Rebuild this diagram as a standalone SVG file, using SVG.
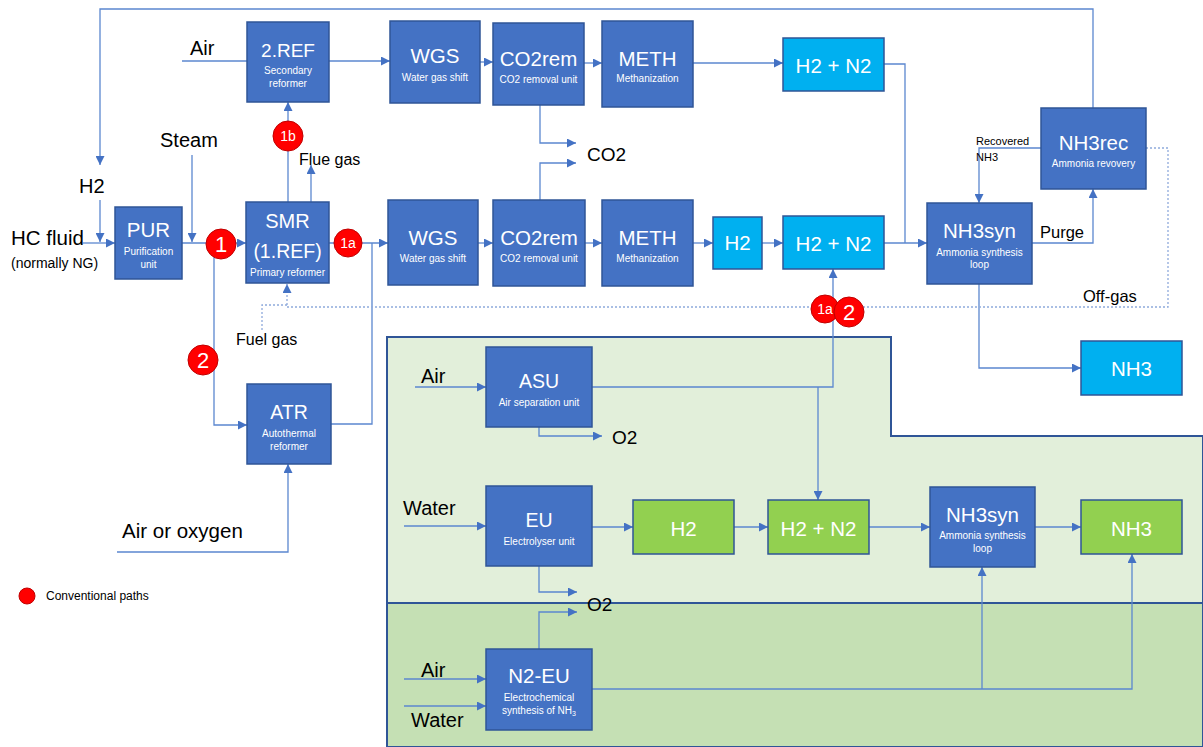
<svg xmlns="http://www.w3.org/2000/svg" width="1203" height="747" viewBox="0 0 1203 747">
<style>
.bx{fill:#4472C4;stroke:#2F5597;stroke-width:1.5}
.cy{fill:#00B0F0;stroke:#2F5597;stroke-width:1.5}
.gr{fill:#92D050;stroke:#2F5597;stroke-width:1.5}
.t{font-family:"Liberation Sans",Arial,sans-serif;fill:#fff;text-anchor:middle}
.tt{font-size:20.5px}
.st{font-size:10px}
.lb{font-family:"Liberation Sans",Arial,sans-serif;fill:#000}
.c{fill:none;stroke:#5B87CF;stroke-width:1.3}
.d{fill:none;stroke:#8FAADC;stroke-width:1.3;stroke-dasharray:2,2}
.rc{fill:#FF0000;stroke:#C00000;stroke-width:1}
.rt{font-family:"Liberation Sans",Arial,sans-serif;fill:#fff;text-anchor:middle}
</style>
<defs>
<marker id="a" markerUnits="userSpaceOnUse" markerWidth="9" markerHeight="9" refX="9" refY="4.5" orient="auto">
<path d="M0,0 L9,4.5 L0,9 z" fill="#4472C4"/>
</marker>
</defs>
<rect width="1203" height="747" fill="#fff"/>
<g id="regions">
<path d="M387,337 H891 V436 H1203 V747 H387 Z" fill="#E2EFDA" stroke="#2F5597" stroke-width="2"/>
<path d="M387,603 H1203 V747 H387 Z" fill="#C5E0B4" stroke="#2F5597" stroke-width="2"/>
</g>
<g id="connectors">
<path class="c" d="M1093,108 V9 H100 V165" marker-end="url(#a)"/>
<path class="c" d="M100,200 V242" marker-end="url(#a)"/>
<path class="c" d="M83,243 H115" marker-end="url(#a)"/>
<path class="c" d="M192,155 V242" marker-end="url(#a)"/>
<path class="c" d="M182,243 H246" marker-end="url(#a)"/>
<path class="c" d="M288,202 V102" marker-end="url(#a)"/>
<path class="c" d="M311,202 V165" marker-end="url(#a)"/>
<path class="c" d="M182,61 H247"/>
<path class="c" d="M329,61 H390" marker-end="url(#a)"/>
<path class="c" d="M480,62 H493" marker-end="url(#a)"/>
<path class="c" d="M584,63 H602" marker-end="url(#a)"/>
<path class="c" d="M693,63 H783" marker-end="url(#a)"/>
<path class="c" d="M540,105 V143 H576" marker-end="url(#a)"/>
<path class="c" d="M540,200 V163 H576" marker-end="url(#a)"/>
<path class="c" d="M329,243 H388" marker-end="url(#a)"/>
<path class="c" d="M331,424 H372 V243"/>
<path class="c" d="M214,244 V425 H247" marker-end="url(#a)"/>
<path class="c" d="M478,243 H493" marker-end="url(#a)"/>
<path class="c" d="M585,243 H602" marker-end="url(#a)"/>
<path class="c" d="M693,243 H713" marker-end="url(#a)"/>
<path class="c" d="M762,243 H783" marker-end="url(#a)"/>
<path class="c" d="M884,243 H927" marker-end="url(#a)"/>
<path class="c" d="M884,64 H905 V243"/>
<path class="c" d="M1032,243 H1093 V189" marker-end="url(#a)"/>
<path class="c" d="M1041,148 H979 V203" marker-end="url(#a)"/>
<path class="c" d="M979,284 V368 H1081" marker-end="url(#a)"/>
<path class="d" d="M1146,148 H1168 V307 H287 V284" marker-end="url(#a)"/>
<path class="d" d="M262,330 V305 H287"/>
<path class="c" d="M117,552 H288 V464" marker-end="url(#a)"/>
<path class="c" d="M592,387 H833 V269" marker-end="url(#a)"/>
<path class="c" d="M818,387 V500" marker-end="url(#a)"/>
<path class="c" d="M415,387 H486" marker-end="url(#a)"/>
<path class="c" d="M539,427 V436 H602" marker-end="url(#a)"/>
<path class="c" d="M404,526 H486" marker-end="url(#a)"/>
<path class="c" d="M592,527 H633" marker-end="url(#a)"/>
<path class="c" d="M734,527 H768" marker-end="url(#a)"/>
<path class="c" d="M869,527 H930" marker-end="url(#a)"/>
<path class="c" d="M1035,527 H1081" marker-end="url(#a)"/>
<path class="c" d="M539,566 V592 H577" marker-end="url(#a)"/>
<path class="c" d="M539,649 V612 H577" marker-end="url(#a)"/>
<path class="c" d="M404,679 H486" marker-end="url(#a)"/>
<path class="c" d="M404,706 H486" marker-end="url(#a)"/>
<path class="c" d="M592,689 H1132 V554" marker-end="url(#a)"/>
<path class="c" d="M982,689 V567" marker-end="url(#a)"/>
</g>
<g id="labels">
<text class="lb" x="11" y="245" font-size="20.5">HC fluid</text>
<text class="lb" x="11" y="268" font-size="14">(normally NG)</text>
<text class="lb" x="79" y="193" font-size="20">H2</text>
<text class="lb" x="160" y="147" font-size="20">Steam</text>
<text class="lb" x="190" y="55" font-size="20">Air</text>
<text class="lb" x="299" y="165" font-size="16">Flue gas</text>
<text class="lb" x="587" y="161" font-size="19">CO2</text>
<text class="lb" x="976" y="145" font-size="11">Recovered</text>
<text class="lb" x="976" y="161" font-size="11">NH3</text>
<text class="lb" x="1040" y="238" font-size="16.5">Purge</text>
<text class="lb" x="1083" y="302" font-size="16.5">Off-gas</text>
<text class="lb" x="236" y="345" font-size="16">Fuel gas</text>
<text class="lb" x="122" y="538" font-size="20.5">Air or oxygen</text>
<text class="lb" x="421" y="383" font-size="20">Air</text>
<text class="lb" x="612" y="444" font-size="19">O2</text>
<text class="lb" x="403" y="515" font-size="20">Water</text>
<text class="lb" x="587" y="611" font-size="19">O2</text>
<text class="lb" x="421" y="677" font-size="20">Air</text>
<text class="lb" x="411" y="727" font-size="20">Water</text>
<text class="lb" x="46" y="600" font-size="12">Conventional paths</text>
</g>
<g id="n-2ref"><rect class="bx" x="247" y="22" width="82" height="80"/><text class="t" x="288" y="57" font-size="19">2.REF</text><text class="t st" x="288" y="74">Secondary</text><text class="t st" x="288" y="87">reformer</text></g>
<g id="n-pur"><rect class="bx" x="115" y="207" width="67" height="72"/><text class="t tt" x="148.5" y="237">PUR</text><text class="t st" x="148.5" y="255">Purification</text><text class="t st" x="148.5" y="268">unit</text></g>
<g id="n-smr"><rect class="bx" x="246" y="202" width="83" height="81"/><text class="t" x="287.5" y="228" font-size="20">SMR</text><text class="t" x="287.5" y="258" font-size="19.5">(1.REF)</text><text class="t st" x="287.5" y="276" font-size="9.8">Primary reformer</text></g>
<g id="n-wgs1"><rect class="bx" x="390" y="21" width="90" height="82"/><text class="t tt" x="435" y="63">WGS</text><text class="t st" x="435" y="81">Water gas shift</text></g>
<g id="n-co2rem1"><rect class="bx" x="493" y="23" width="91" height="82"/><text class="t tt" x="538.5" y="66">CO2rem</text><text class="t st" x="538.5" y="83">CO2 removal unit</text></g>
<g id="n-meth1"><rect class="bx" x="602" y="21" width="91" height="86"/><text class="t tt" x="647.5" y="66">METH</text><text class="t st" x="647.5" y="82">Methanization</text></g>
<g id="n-h2n2-1"><rect class="cy" x="783" y="38" width="101" height="53"/><text class="t tt" x="833.5" y="73">H2 + N2</text></g>
<g id="n-wgs2"><rect class="bx" x="388" y="200" width="90" height="85"/><text class="t tt" x="433" y="245">WGS</text><text class="t st" x="433" y="262">Water gas shift</text></g>
<g id="n-co2rem2"><rect class="bx" x="493" y="200" width="92" height="86"/><text class="t tt" x="539" y="245">CO2rem</text><text class="t st" x="539" y="262">CO2 removal unit</text></g>
<g id="n-meth2"><rect class="bx" x="602" y="200" width="91" height="86"/><text class="t tt" x="647.5" y="245">METH</text><text class="t st" x="647.5" y="262">Methanization</text></g>
<g id="n-h2-1"><rect class="cy" x="713" y="217" width="49" height="52"/><text class="t tt" x="737.5" y="250">H2</text></g>
<g id="n-h2n2-2"><rect class="cy" x="783" y="216" width="101" height="53"/><text class="t tt" x="833.5" y="251">H2 + N2</text></g>
<g id="n-nh3syn1"><rect class="bx" x="927" y="203" width="105" height="81"/><text class="t tt" x="979.5" y="238">NH3syn</text><text class="t st" x="979.5" y="256">Ammonia synthesis</text><text class="t st" x="979.5" y="268">loop</text></g>
<g id="n-nh3rec"><rect class="bx" x="1041" y="108" width="105" height="81"/><text class="t tt" x="1093.5" y="150">NH3rec</text><text class="t st" x="1093.5" y="167">Ammonia revovery</text></g>
<g id="n-nh3-1"><rect class="cy" x="1081" y="341" width="101" height="54"/><text class="t tt" x="1131.5" y="376">NH3</text></g>
<g id="n-atr"><rect class="bx" x="247" y="384" width="84" height="80"/><text class="t" x="289" y="419" font-size="19.5">ATR</text><text class="t st" x="289" y="437">Autothermal</text><text class="t st" x="289" y="450">reformer</text></g>
<g id="n-asu"><rect class="bx" x="486" y="347" width="106" height="80"/><text class="t" x="539" y="388" font-size="19.5">ASU</text><text class="t st" x="539" y="406">Air separation unit</text></g>
<g id="n-eu"><rect class="bx" x="486" y="486" width="106" height="80"/><text class="t" x="539" y="527" font-size="19.5">EU</text><text class="t st" x="539" y="545">Electrolyser unit</text></g>
<g id="n-h2-2"><rect class="gr" x="633" y="500" width="101" height="54"/><text class="t tt" x="683.5" y="536">H2</text></g>
<g id="n-h2n2-3"><rect class="gr" x="768" y="500" width="101" height="54"/><text class="t tt" x="818.5" y="536">H2 + N2</text></g>
<g id="n-nh3syn2"><rect class="bx" x="930" y="487" width="105" height="80"/><text class="t tt" x="982.5" y="522">NH3syn</text><text class="t st" x="982.5" y="539">Ammonia synthesis</text><text class="t st" x="982.5" y="552">loop</text></g>
<g id="n-nh3-2"><rect class="gr" x="1081" y="500" width="101" height="54"/><text class="t tt" x="1131.5" y="536">NH3</text></g>
<g id="n-n2eu"><rect class="bx" x="486" y="649" width="106" height="81"/><text class="t tt" x="539" y="683">N2-EU</text><text class="t st" x="539" y="701">Electrochemical</text><text class="t st" x="539" y="714">synthesis of NH<tspan font-size="7" dy="2">3</tspan></text></g>
<g id="markers">
<circle class="rc" cx="221" cy="244" r="15"/><text class="rt" x="221" y="252" font-size="22">1</text>
<circle class="rc" cx="348" cy="243" r="14"/><text class="rt" x="348" y="248" font-size="14">1a</text>
<circle class="rc" cx="288" cy="136" r="15"/><text class="rt" x="288" y="141" font-size="14">1b</text>
<circle class="rc" cx="203" cy="360" r="15"/><text class="rt" x="203" y="368" font-size="22">2</text>
<circle class="rc" cx="825" cy="309" r="14"/><text class="rt" x="825" y="314" font-size="14">1a</text>
<circle class="rc" cx="849" cy="312" r="15"/><text class="rt" x="849" y="320" font-size="22">2</text>
<circle class="rc" cx="27" cy="596" r="8"/>
</g>
</svg>
